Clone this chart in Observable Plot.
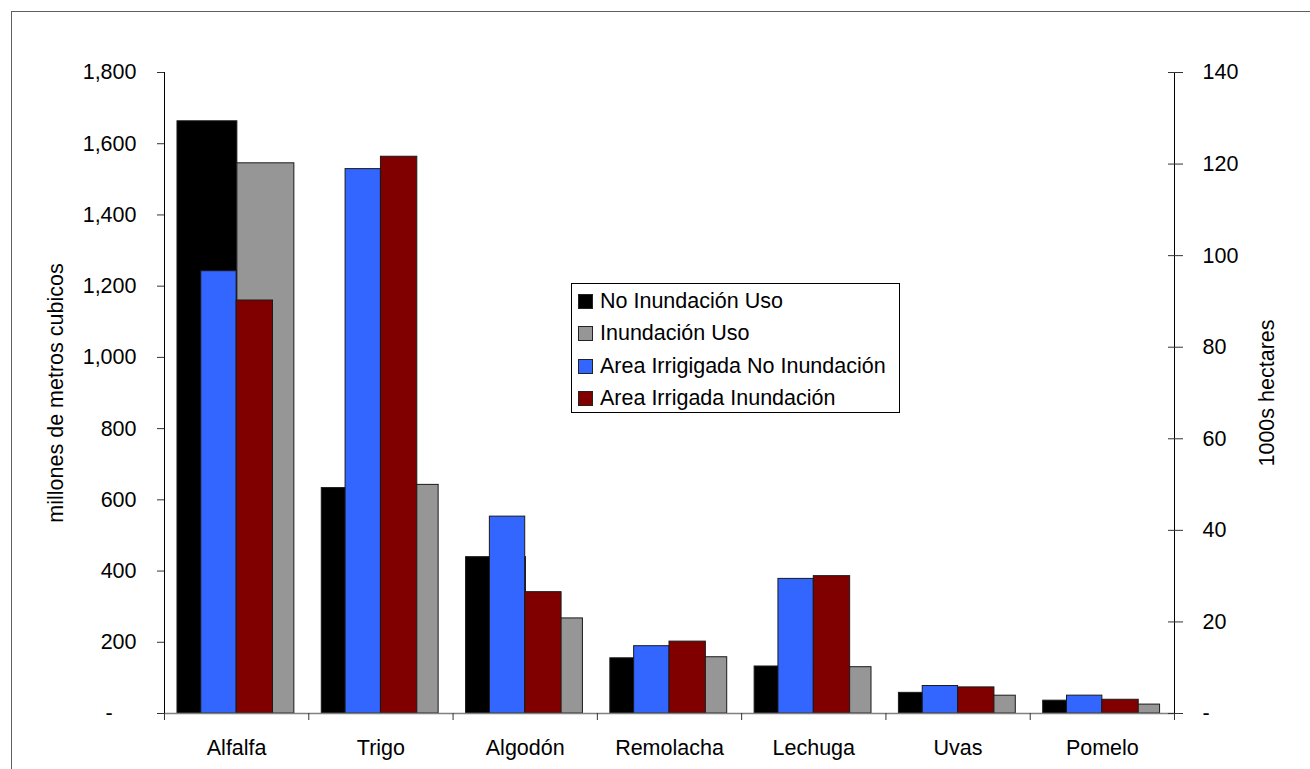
<!DOCTYPE html>
<html><head><meta charset="utf-8">
<script src="https://cdn.jsdelivr.net/npm/d3@7"></script>
<script src="https://cdn.jsdelivr.net/npm/@observablehq/plot@0.6"></script>
<style>
html,body{margin:0;padding:0;background:#fff;overflow:hidden}
#wrap{position:relative;width:1310px;height:769px;font-family:"Liberation Sans",Arial,sans-serif}
#legend{position:absolute;left:571px;top:283px;width:327px;height:128px;border:1px solid #000;background:#fff}
.item{position:absolute;left:0;height:22px;display:flex;align-items:center;font-size:21.5px;color:#000;white-space:nowrap}
.sw{width:15px;height:15px;margin-left:6px;margin-right:7px;box-sizing:border-box;border:1px solid #222}
</style></head><body><div id="wrap"></div>
<script>
// ---- data ----
const categories = ["Alfalfa", "Trigo", "Algodón", "Remolacha", "Lechuga", "Uvas", "Pomelo"];
const noInundacionUso = [1663, 633, 439, 155, 132, 58, 36];        // millones m3 (left axis)
const inundacionUso = [1545, 642, 267, 158, 130, 50, 25];          // millones m3 (left axis)
const areaNoInundacion = [96.6, 118.9, 43.0, 14.7, 29.4, 6.0, 3.9]; // 1000s ha (right axis)
const areaInundacion = [90.2, 121.6, 26.5, 15.7, 30.0, 5.7, 3.0];   // 1000s ha (right axis)
const leftTicks = [0, 200, 400, 600, 800, 1000, 1200, 1400, 1600, 1800];
const rightTicks = [0, 20, 40, 60, 80, 100, 120, 140];
const seriesNames = ["No Inundación Uso", "Inundación Uso", "Area Irrigigada No Inundación", "Area Irrigada Inundación"];
const seriesColors = ["#000000", "#969696", "#3366FF", "#800000"];

// ---- layout / scaling ----
const LEFT_MAX = 1800, RIGHT_MAX = 140;
const toLeft = v => v * LEFT_MAX / RIGHT_MAX;
const slots = [[0.09, 0.505], [0.505, 0.90], [0.255, 0.50], [0.50, 0.752]];
const seriesVals = [noInundacionUso, inundacionUso, areaNoInundacion.map(toLeft), areaInundacion.map(toLeft)];
const rows = [];
seriesVals.forEach((vals, s) => vals.forEach((v, i) => rows.push({s, i, cat: categories[i], value: v})));

const font = '"Liberation Sans", Arial, sans-serif';
const plot = Plot.plot({
  width: 1310, height: 769,
  marginLeft: 164, marginRight: 136, marginTop: 72, marginBottom: 56,
  style: {fontFamily: font, fontSize: "21.5px", color: "#000", background: "transparent"},
  x: {type: "linear", domain: [0, categories.length], axis: null},
  y: {domain: [0, LEFT_MAX], axis: null},
  marks: [
    Plot.rectY(rows.filter(d => d.s < 2), {
      x1: d => d.i + slots[d.s][0], x2: d => d.i + slots[d.s][1], y: "value",
      fill: d => seriesColors[d.s], stroke: "#1a1a1a", strokeWidth: 1
    }),
    Plot.rectY(rows.filter(d => d.s >= 2), {
      x1: d => d.i + slots[d.s][0], x2: d => d.i + slots[d.s][1], y: "value",
      fill: d => seriesColors[d.s], stroke: "#1a1a1a", strokeWidth: 1
    }),
    Plot.ruleY([0], {stroke: "#808080", strokeWidth: 1.5}),
    Plot.ruleX([0, categories.length], {stroke: "#000", strokeWidth: 1}),
    // left axis
    Plot.axisY(leftTicks, {anchor: "left", tickSize: 7, tickPadding: 21, label: null,
      stroke: "#333",
      tickFormat: d => d === 0 ? "-\u00a0\u00a0\u00a0\u00a0" : d3.format(",")(d)}),
    // right axis (secondary values mapped onto the primary scale)
    Plot.axisY(rightTicks.map(toLeft), {anchor: "right", tickSize: 15, tickPadding: 20, dx: -7, label: null,
      stroke: "#333",
      tickFormat: d => { const v = Math.round(d * RIGHT_MAX / LEFT_MAX); return v === 0 ? "-" : String(v); }}),
    // category boundary ticks
    Plot.axisX(d3.range(0, categories.length + 1), {anchor: "bottom", tickSize: 7, label: null,
      stroke: "#333", tickFormat: () => ""}),
    // category labels
    Plot.axisX(categories.map((c, i) => i + 0.5), {anchor: "bottom", tickSize: 0, tickPadding: 26, label: null,
      tickFormat: v => categories[Math.floor(v)]}),
    // axis titles
    Plot.text(["millones de metros cubicos"], {text: d => d, frameAnchor: "left", dx: -108, rotate: -90,
      fontSize: 21.5, lineAnchor: "middle", textAnchor: "middle", fill: "#000"}),
    Plot.text(["1000s hectares"], {text: d => d, frameAnchor: "right", dx: 93, rotate: -90,
      fontSize: 21.5, lineAnchor: "middle", textAnchor: "middle", fill: "#000"})
  ]
});

// outer chart-area border
d3.select(plot).insert("rect", ":first-child")
  .attr("x", 11.5).attr("y", 11.5).attr("width", 1400).attr("height", 900)
  .attr("fill", "none").attr("stroke", "#606060").attr("stroke-width", 1);

const wrap = document.getElementById("wrap");
wrap.appendChild(plot);

// legend
const legend = document.createElement("div");
legend.id = "legend";
const centers = [17, 49.5, 82, 114.5];
seriesNames.forEach((name, s) => {
  const item = document.createElement("div");
  item.className = "item";
  item.style.top = (centers[s] - 11) + "px";
  const sw = document.createElement("div");
  sw.className = "sw";
  sw.style.background = seriesColors[s];
  const label = document.createElement("span");
  label.textContent = name;
  item.appendChild(sw); item.appendChild(label);
  legend.appendChild(item);
});
wrap.appendChild(legend);
</script></body></html>
